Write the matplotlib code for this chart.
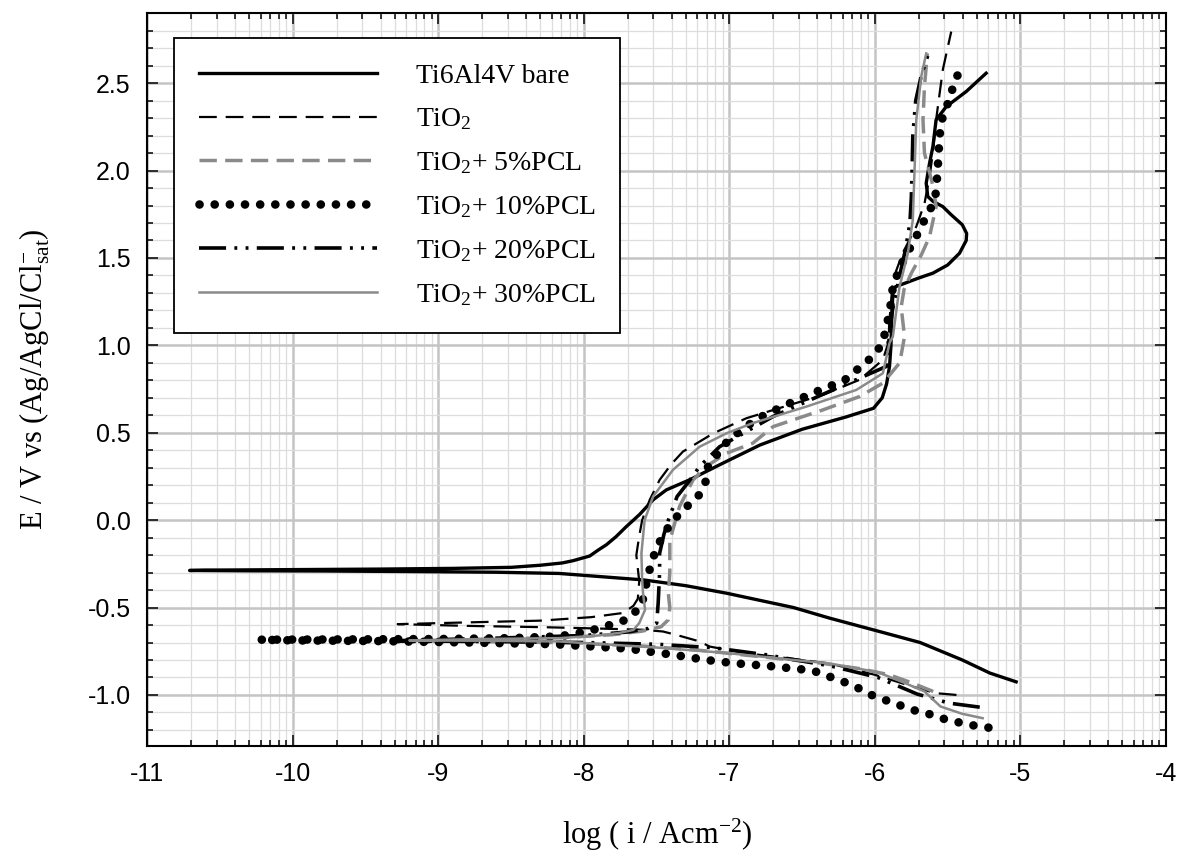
import numpy as np
import matplotlib.pyplot as plt
from matplotlib.ticker import MultipleLocator, FixedLocator

plt.rcParams['font.family'] = 'Liberation Serif'
plt.rcParams['mathtext.fontset'] = 'custom'
plt.rcParams['mathtext.rm'] = 'Liberation Serif'
plt.rcParams['mathtext.it'] = 'Liberation Serif:italic'
plt.rcParams['axes.unicode_minus'] = False

bare_logi = [-5.03, -5.21, -5.40, -5.69, -6.01, -6.31, -6.56, -7.02, -7.30, -7.59, -8.17, -8.6, -9.2, -9.8, -10.3, -10.71,
             -10.6, -10.0, -9.4, -8.9, -8.5, -8.30, -8.15, -8.075, -7.96, -7.90, -7.846, -7.78, -7.709, -7.66, -7.617,
             -7.525, -7.434, -7.273, -7.045, -6.79, -6.5, -6.2, -6.01, -5.95, -5.92, -5.90, -5.89, -5.885, -5.877,
             -5.86, -5.78, -5.70, -5.602, -5.50, -5.419, -5.373, -5.37, -5.40, -5.48, -5.534, -5.60, -5.637, -5.648,
             -5.625, -5.602, -5.58, -5.51, -5.373, -5.236]
bare_E = [-0.925, -0.875, -0.80, -0.70, -0.628, -0.561, -0.50, -0.418, -0.375, -0.342, -0.305, -0.298, -0.294, -0.291, -0.29, -0.288,
          -0.286, -0.283, -0.28, -0.276, -0.27, -0.258, -0.245, -0.232, -0.205, -0.17, -0.141, -0.095, -0.037, 0.0, 0.033,
          0.116, 0.173, 0.231, 0.326, 0.43, 0.52, 0.59, 0.64, 0.70, 0.78, 0.88, 1.0, 1.15, 1.30,
          1.335, 1.36, 1.385, 1.413, 1.46, 1.527, 1.60, 1.64, 1.69, 1.75, 1.794, 1.823, 1.851, 1.928,
          2.042, 2.137, 2.29, 2.366, 2.452, 2.557]

tio2_logi = [-5.44, -5.58, -5.71, -6.0, -6.31, -6.6, -6.9, -7.137, -7.205, -7.35, -7.457, -7.6, -7.9, -8.3, -8.8, -9.28,
             -8.8, -8.3, -7.95, -7.73, -7.66, -7.63, -7.62, -7.64, -7.62, -7.60, -7.548, -7.48, -7.40, -7.32, -7.11,
             -6.884, -6.70, -6.357, -6.106, -5.946, -5.91, -5.90, -5.877, -5.81, -5.716, -5.66, -5.625, -5.602, -5.58,
             -5.534, -5.476]
tio2_E = [-1.0, -0.99, -0.96, -0.885, -0.82, -0.79, -0.76, -0.723, -0.694, -0.66, -0.637, -0.627, -0.62, -0.612, -0.605, -0.595,
          -0.585, -0.575, -0.555, -0.531, -0.49, -0.45, -0.35, -0.2, -0.09, 0.0, 0.116, 0.23, 0.32, 0.392, 0.497,
          0.583, 0.63, 0.717, 0.803, 0.917, 1.01, 1.146, 1.375, 1.527, 1.68, 1.81, 1.966, 2.10, 2.29,
          2.576, 2.795]

pcl5_logi = [-5.6, -5.75, -5.9, -6.1, -6.4, -6.8, -7.2, -7.6, -8.2, -8.7, -9.1,
             -8.6, -8.1, -7.8, -7.6, -7.47, -7.42, -7.41, -7.42, -7.41, -7.41, -7.343, -7.25, -7.16, -7.02, -6.84,
             -6.70, -6.357, -6.106, -5.946, -5.83, -5.797, -5.82, -5.80, -5.75, -5.68, -5.625, -5.58, -5.60, -5.66,
             -5.67, -5.66, -5.64]
pcl5_E = [-0.98, -0.93, -0.885, -0.85, -0.815, -0.78, -0.745, -0.72, -0.70, -0.695, -0.69,
          -0.68, -0.67, -0.655, -0.635, -0.61, -0.57, -0.50, -0.42, -0.30, -0.116, 0.078, 0.23, 0.307, 0.383, 0.44,
          0.535, 0.631, 0.707, 0.784, 0.90, 1.05, 1.22, 1.32, 1.413, 1.52, 1.622, 1.794, 1.908, 2.10,
          2.29, 2.48, 2.67]

pcl10_logi = [-5.22, -5.32, -5.419, -5.522, -5.625, -5.726, -5.826, -5.927, -6.025, -6.117, -6.22, -6.43, -6.724, -6.975,
              -7.16, -7.39, -7.7, -8.2, -8.8, -9.4, -10.0, -10.23,
              -9.6, -9.0, -8.5, -8.17, -8.0, -7.9, -7.823, -7.71, -7.605, -7.56, -7.536, -7.50, -7.452, -7.388, -7.296,
              -7.21, -7.16, -7.147, -7.003, -6.81, -6.61, -6.40, -6.21, -6.015, -5.946, -5.923, -5.90, -5.877, -5.831,
              -5.785, -5.728, -5.671, -5.625, -5.584, -5.575, -5.568, -5.556, -5.545, -5.51, -5.476, -5.442, -5.396]
pcl10_E = [-1.187, -1.175, -1.158, -1.138, -1.11, -1.089, -1.06, -1.03, -1.0, -0.96, -0.923, -0.86, -0.835, -0.818,
           -0.80, -0.77, -0.735, -0.71, -0.70, -0.692, -0.688, -0.684,
           -0.682, -0.68, -0.675, -0.665, -0.64, -0.62, -0.60, -0.57, -0.493, -0.32, -0.243, -0.158, -0.08, -0.002, 0.075,
           0.143, 0.227, 0.31, 0.463, 0.58, 0.66, 0.736, 0.80, 0.936, 1.013, 1.107, 1.184, 1.336, 1.44,
           1.518, 1.603, 1.70, 1.765, 1.86, 1.937, 2.023, 2.195, 2.28, 2.357, 2.446, 2.529, 2.605]

pcl20_logi = [-5.28, -5.49, -5.71, -5.98, -6.3, -6.75, -7.11, -7.5, -8.0, -8.6, -9.3,
              -8.6, -8.0, -7.7, -7.56, -7.50, -7.49, -7.48, -7.48, -7.45, -7.42, -7.36, -7.28, -7.205, -7.068, -6.70,
              -6.29, -5.92, -5.91, -5.88, -5.83, -5.79, -5.76, -5.75, -5.745, -5.74, -5.72, -5.68, -5.62]
pcl20_E = [-1.07, -1.047, -0.995, -0.90, -0.835, -0.77, -0.73, -0.71, -0.70, -0.695, -0.69,
           -0.675, -0.66, -0.64, -0.62, -0.589, -0.475, -0.30, -0.19, -0.08, 0.0, 0.135, 0.22, 0.307, 0.42, 0.593,
           0.745, 0.88, 1.01, 1.20, 1.40, 1.55, 1.70, 1.85, 2.0, 2.2, 2.4, 2.55, 2.70]

pcl30_logi = [-5.26, -5.40, -5.55, -5.66, -5.80, -5.98, -6.31, -6.56, -7.02, -7.48, -8.17, -8.7, -9.2,
              -8.7, -8.167, -7.9, -7.755, -7.66, -7.62, -7.58, -7.594, -7.60, -7.605, -7.583, -7.525, -7.388, -7.205,
              -7.02, -6.84, -6.47, -6.128, -5.946, -5.90, -5.877, -5.831, -5.774, -5.74, -5.728, -5.716, -5.682, -5.648]
pcl30_E = [-1.133, -1.108, -1.066, -0.98, -0.93, -0.87, -0.82, -0.80, -0.76, -0.73, -0.694, -0.69, -0.688,
           -0.68, -0.675, -0.66, -0.645, -0.628, -0.589, -0.513, -0.418, -0.342, -0.19, 0.0, 0.135, 0.288, 0.42,
           0.497, 0.555, 0.65, 0.745, 0.84, 1.013, 1.05, 1.336, 1.527, 1.718, 2.004, 2.29, 2.538, 2.67]

labels = ['Ti6Al4V bare', 'TiO$_2$', 'TiO$_2$+ 5%PCL', 'TiO$_2$+ 10%PCL', 'TiO$_2$+ 20%PCL', 'TiO$_2$+ 30%PCL']
gray = '#8a8a8a'

fig = plt.figure(figsize=(11.84, 8.65), dpi=100)
ax = fig.add_axes([0.1245, 0.138, 0.8603, 0.8467])

ax.plot(bare_logi, bare_E, color='black', lw=2.4, label=labels[0])
ax.plot(tio2_logi, tio2_E, color='black', lw=1.6, linestyle=(0, (8, 4)), label=labels[1])
ax.plot(pcl5_logi, pcl5_E, color=gray, lw=2.5, linestyle=(0, (5, 2.4)), label=labels[2])
ax.plot(pcl10_logi, pcl10_E, color='black', lw=6.2, linestyle=(0, (0.01, 1.75)),
        dash_capstyle='round', label=labels[3])
ax.plot(pcl20_logi, pcl20_E, color='black', lw=2.6,
        linestyle=(0, (7.5, 2.3, 0.8, 2.3, 0.8, 2.3)), label=labels[4])
ax.plot(pcl30_logi, pcl30_E, color=gray, lw=1.8, label=labels[5])

ax.set_xlim(-11, -4)
ax.set_ylim(-1.29, 2.9)
ax.xaxis.set_major_locator(MultipleLocator(1))
ax.xaxis.set_minor_locator(FixedLocator([d + np.log10(k) for d in range(-11, -4) for k in range(2, 10)]))
ax.yaxis.set_major_locator(MultipleLocator(0.5))
ax.yaxis.set_minor_locator(MultipleLocator(0.1))
ax.yaxis.set_major_formatter(plt.FormatStrFormatter('%.1f'))

ax.set_axisbelow(True)
ax.grid(which='major', color='#c4c4c4', lw=1.8)
ax.grid(which='minor', color='#dddddd', lw=0.9)

ax.tick_params(which='both', direction='in', top=True, right=True, labelsize=18, width=1.1)
ax.tick_params(which='major', length=8, pad=12)
ax.tick_params(which='minor', length=4.5)
for lab in ax.get_xticklabels() + ax.get_yticklabels():
    lab.set_fontfamily('Liberation Sans')
for sp in ax.spines.values():
    sp.set_linewidth(1.5)

ax.set_xlabel('log ( i / Acm$^{-2}$)', fontsize=22, labelpad=22)
ax.set_ylabel('E / V vs (Ag/AgCl/Cl$^{-}_{\\mathrm{sat}}$)', fontsize=22, labelpad=26)

leg = ax.legend(loc='upper left', bbox_to_anchor=(0.026, 0.966), fontsize=20, handlelength=6.4,
                handletextpad=1.4, labelspacing=0.645, borderpad=0.9, borderaxespad=0, fancybox=False,
                framealpha=1, edgecolor='black')
leg.get_frame().set_linewidth(1.3)

plt.savefig('out.png', dpi=100)
